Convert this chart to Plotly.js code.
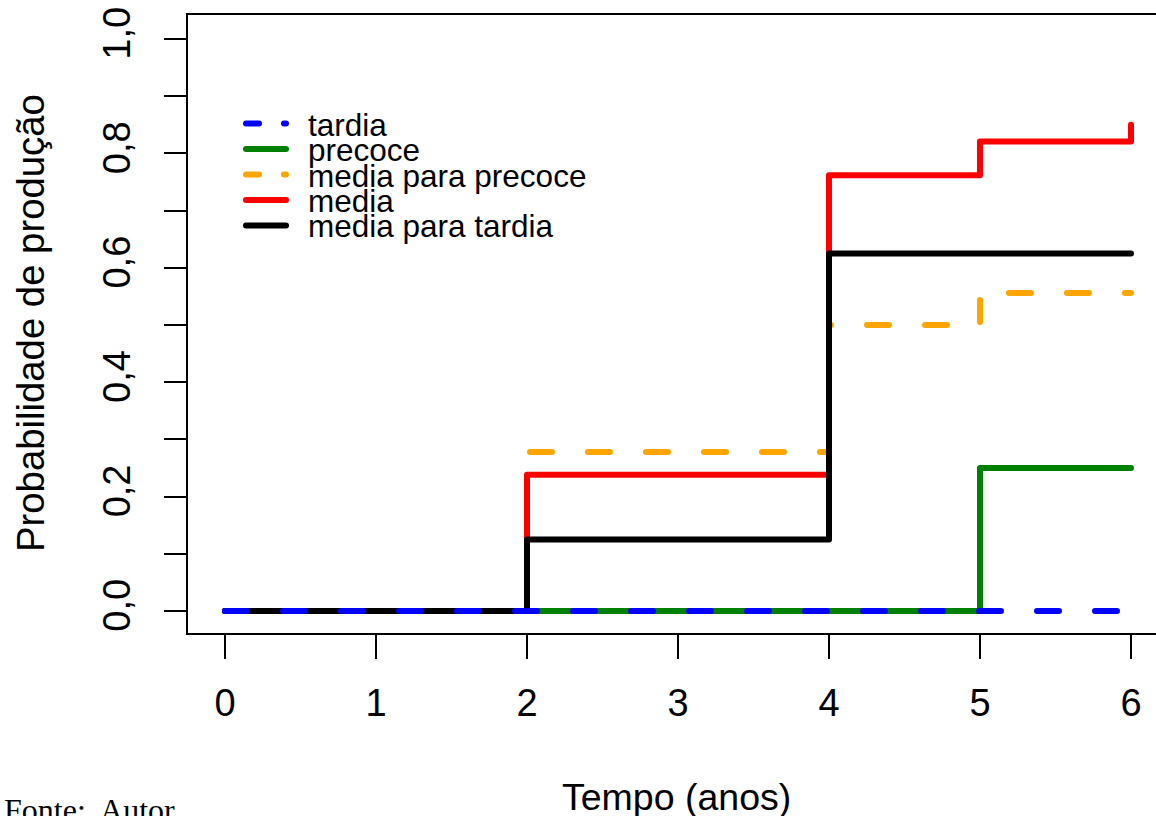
<!DOCTYPE html>
<html>
<head>
<meta charset="utf-8">
<script src="https://cdn.plot.ly/plotly-3.0.1.min.js"></script>
<style>
html,body{margin:0;padding:0;background:#fff;}
#chart{width:1156px;height:816px;}
.js-line{stroke-linecap:round;stroke-linejoin:round;}
.shapelayer path{stroke-linecap:round;}
</style>
</head>
<body>
<div id="chart"></div>
<script>
// Data
const tempo = [0, 2, 4, 5, 6];
const tardia = [0, 0, 0, 0, 0];
const precoce = [0, 0, 0, 0.25, 0.25];
const mediaParaPrecoce = [0, 0.278, 0.5, 0.556, 0.556];
const media = [0, 0.238, 0.762, 0.821, 0.85];
const mediaParaTardia = [0, 0.125, 0.625, 0.625, 0.625];

const legendLabels = ["tardia", "precoce", "media para precoce", "media", "media para tardia"];
const xTickVals = [0, 1, 2, 3, 4, 5, 6];
const yTickVals = [0, 0.1, 0.2, 0.3, 0.4, 0.5, 0.6, 0.7, 0.8, 0.9, 1.0];
const yTickText = ["0,0", "", "0,2", "", "0,4", "", "0,6", "", "0,8", "", "1,0"];

// Styles
const styles = {
  "tardia": {color: "#0000ff", dash: "22px,36px"},
  "precoce": {color: "#008000", dash: "solid"},
  "media para precoce": {color: "#ffa500", dash: "22px,36px"},
  "media": {color: "#ff0000", dash: "solid"},
  "media para tardia": {color: "#000000", dash: "solid"}
};
const seriesY = {
  "tardia": tardia,
  "precoce": precoce,
  "media para precoce": mediaParaPrecoce,
  "media": media,
  "media para tardia": mediaParaTardia
};
const drawOrder = ["precoce", "media para precoce", "media", "media para tardia", "tardia"];

const traces = drawOrder.map(name => ({
  type: "scatter",
  mode: "lines",
  name: name,
  x: tempo,
  y: seriesY[name],
  line: {shape: "hv", color: styles[name].color, width: 6, dash: styles[name].dash},
  showlegend: false,
  hoverinfo: "skip"
}));

// layout geometry (pixels)
const W = 1156, H = 816;
const L = 188, R = 0, T = 15, B = 183;
const pw = W - L - R, ph = H - T - B;
const px = p => (p - L) / pw;
const py = p => (H - B - p) / ph;

const shapes = [];
const annotations = [];
const legY0 = 123.5, legStep = 25.5;
legendLabels.forEach((name, i) => {
  const yy = legY0 + i * legStep;
  const isDash = styles[name].dash !== "solid";
  shapes.push({
    type: "line", xref: "paper", yref: "paper",
    x0: px(246), x1: px(286), y0: py(yy), y1: py(yy),
    line: {color: styles[name].color, width: 6, dash: isDash ? "13px,25px" : "solid"}
  });
  annotations.push({
    xref: "paper", yref: "paper", x: px(306), y: py(yy + 1),
    xanchor: "left", yanchor: "middle", showarrow: false,
    text: name, font: {family: "Liberation Sans, Arial, sans-serif", size: 31.5, color: "#000"}
  });
});

annotations.push({
  xref: "paper", yref: "paper", x: px(676), y: py(797),
  xanchor: "center", yanchor: "middle", showarrow: false,
  text: "Tempo (anos)", font: {family: "Liberation Sans, Arial, sans-serif", size: 37.5, color: "#000"}
});
annotations.push({
  xref: "paper", yref: "paper", x: px(30), y: py(323),
  xanchor: "center", yanchor: "middle", showarrow: false, textangle: -90,
  text: "Probabilidade de produção", font: {family: "Liberation Sans, Arial, sans-serif", size: 38.3, color: "#000"}
});
annotations.push({
  xref: "paper", yref: "paper", x: px(2), y: py(790),
  xanchor: "left", yanchor: "top", showarrow: false,
  text: "Fonte:  Autor", font: {family: "Liberation Serif, Times New Roman, serif", size: 32, color: "#000"}
});

const layout = {
  width: W, height: H,
  margin: {l: L, r: R, t: T, b: B, pad: 0},
  paper_bgcolor: "#fff", plot_bgcolor: "#fff",
  showlegend: false,
  font: {family: "Liberation Sans, Arial, sans-serif", color: "#000"},
  xaxis: {
    range: [-37 / 151, 931 / 151],
    tickvals: xTickVals, ticktext: xTickVals.map(String),
    ticks: "outside", ticklen: 24, tickwidth: 2, tickcolor: "#000",
    ticklabelstandoff: 11,
    showline: true, linewidth: 2, linecolor: "#000", mirror: true,
    showgrid: false, zeroline: false,
    tickfont: {family: "Liberation Sans, Arial, sans-serif", size: 38, color: "#000"},
    automargin: false
  },
  yaxis: {
    range: [-22 / 572, 596 / 572],
    tickvals: yTickVals, ticktext: yTickText,
    ticks: "outside", ticklen: 22, tickwidth: 2, tickcolor: "#000",
    ticklabelstandoff: 19,
    tickangle: -90,
    showline: true, linewidth: 2, linecolor: "#000", mirror: false,
    showgrid: false, zeroline: false,
    tickfont: {family: "Liberation Sans, Arial, sans-serif", size: 38, color: "#000"},
    automargin: false
  },
  shapes: shapes,
  annotations: annotations
};

Plotly.newPlot("chart", traces, layout, {staticPlot: true, displayModeBar: false});
</script>
</body>
</html>
